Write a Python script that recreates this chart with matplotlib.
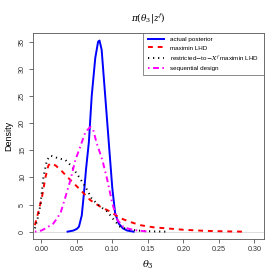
import numpy as np
import matplotlib
matplotlib.use("Agg")
import matplotlib.pyplot as plt

# densities
post_x = [0.037, 0.045, 0.050, 0.053, 0.057, 0.060, 0.063, 0.067, 0.071, 0.076,
          0.080, 0.082, 0.085, 0.090, 0.095, 0.100, 0.104, 0.109, 0.115, 0.121, 0.130]
post_y = [0.0, 0.2, 0.5, 0.9, 3.0, 7.0, 11.5, 16.5, 25.0, 32.0,
          35.0, 35.2, 33.5, 25.0, 16.5, 8.0, 3.4, 1.5, 0.6, 0.2, 0.0]

lhd_x = [-0.009, -0.004, 0.001, 0.006, 0.010, 0.013, 0.020, 0.027, 0.041, 0.055,
         0.069, 0.083, 0.097, 0.111, 0.125, 0.139, 0.158, 0.177, 0.200, 0.230, 0.260, 0.285]
lhd_y = [1.2, 3.7, 6.4, 10.1, 12.2, 12.6, 12.2, 11.4, 9.5, 7.7,
         5.8, 4.6, 3.7, 2.5, 1.8, 1.2, 0.8, 0.6, 0.35, 0.15, 0.05, 0.0]

rlhd_x = [-0.009, -0.004, -0.001, 0.003, 0.008, 0.013, 0.018, 0.024, 0.034, 0.043,
          0.053, 0.062, 0.071, 0.083, 0.093, 0.102, 0.111, 0.120, 0.135, 0.155, 0.177]
rlhd_y = [0.6, 3.0, 5.2, 10.1, 13.2, 14.0, 13.8, 13.5, 13.2, 12.0,
          10.1, 8.3, 6.1, 4.6, 3.7, 2.2, 0.9, 0.5, 0.2, 0.05, 0.0]

seq_x = [-0.009, 0.000, 0.006, 0.017, 0.027, 0.034, 0.041, 0.048, 0.055, 0.062,
         0.069, 0.073, 0.078, 0.086, 0.093, 0.100, 0.107, 0.116, 0.130, 0.151]
seq_y = [0.0, 0.2, 0.6, 1.5, 3.4, 6.4, 9.5, 13.2, 15.7, 18.3,
         19.3, 18.8, 16.3, 13.2, 9.5, 5.2, 2.2, 0.8, 0.3, 0.0]

labels = ["actual posterior", "maximin LHD",
          r"restricted$-$to$-X^f$ maximin LHD", "sequential design"]
xticks = [0.00, 0.05, 0.10, 0.15, 0.20, 0.25, 0.30]
yticks = [0, 5, 10, 15, 20, 25, 30, 35]

plt.rcParams["font.family"] = ["Liberation Sans", "DejaVu Sans"]
plt.rcParams["mathtext.fontset"] = "dejavuserif"

fig = plt.figure(figsize=(2.8, 2.8), dpi=100)
ax = fig.add_axes([33 / 280, 1 - 239.3 / 280, 230.6 / 280, 206.6 / 280])

ax.axhline(0, color="#d8d8d8", lw=0.6, zorder=0)
ax.plot(post_x, post_y, color="blue", lw=1.4, label=labels[0])
ax.plot(lhd_x, lhd_y, color="red", lw=1.4, dashes=(2.5, 2.5), label=labels[1])
ax.plot(rlhd_x, rlhd_y, color="black", lw=1.4, dashes=(0.6, 2.0), label=labels[2])
ax.plot(seq_x, seq_y, color="magenta", lw=1.4, dashes=(0.8, 1.8, 3.0, 1.8), label=labels[3])

ax.set_xlim(-0.0117, 0.3131)
ax.set_ylim(-1.41, 36.65)
ax.set_xticks(xticks)
ax.set_xticklabels([f"{t:.2f}" for t in xticks])
ax.set_yticks(yticks)
ax.set_yticklabels([str(t) for t in yticks], rotation=90, va="center")
ax.tick_params(labelsize=5.2, length=3, width=0.5, colors="#333333", pad=2)
for s in ax.spines.values():
    s.set_linewidth(0.6)
    s.set_color("#555555")

ax.set_title(r"$\pi(\theta_3|z^f)$", fontsize=6.5, pad=8)
ax.set_xlabel(r"$\theta_3$", fontsize=7, labelpad=4)
ax.set_ylabel("Density", fontsize=6.5, labelpad=4)

leg = ax.legend(loc="upper right", fontsize=4.5, frameon=True, fancybox=False,
                borderaxespad=0, handlelength=2.6, handletextpad=1.0,
                labelspacing=0.45, borderpad=0.7)
leg.get_frame().set_edgecolor("#555555")
leg.get_frame().set_linewidth(0.6)

fig.savefig("out.png", dpi=100)
